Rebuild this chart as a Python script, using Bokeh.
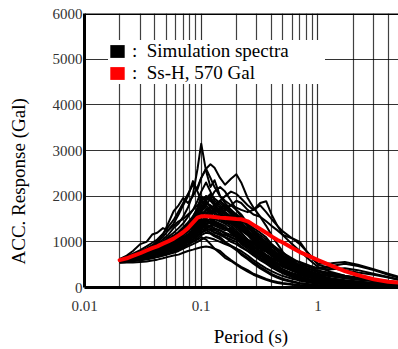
from bokeh.plotting import figure
from bokeh.models import Range1d, FixedTicker, Span, Legend, LegendItem
from bokeh.embed import file_html
from bokeh.resources import INLINE

period = [0.02, 0.023, 0.026, 0.03, 0.034, 0.038, 0.042, 0.047, 0.052, 0.058,
          0.064, 0.07, 0.077, 0.085, 0.093, 0.1, 0.11, 0.12, 0.13, 0.145,
          0.16, 0.18, 0.2, 0.22, 0.25, 0.28, 0.32, 0.36, 0.4, 0.45,
          0.5, 0.6, 0.7, 0.85, 1.0, 1.3, 1.7, 2.2, 3.0, 4.0, 5.0]

ss_h = [600, 640, 690, 750, 810, 860, 900, 960, 1010, 1070,
        1140, 1210, 1300, 1420, 1530, 1560, 1560, 1555, 1545, 1530,
        1520, 1510, 1500, 1495, 1450, 1370, 1280, 1200, 1120, 1040,
        985, 870, 775, 680, 600, 480, 360, 270, 180, 125, 110]

sim_01 = [600, 640, 700, 760, 830, 900, 960, 1050, 1150, 1300, 1400, 1550, 1750, 2050, 2600, 3150, 2550, 2200, 2350, 2000, 1850, 1700, 1600, 1450, 1250, 1050, 850, 700, 560, 450, 370, 280, 210, 150, 110, 80, 60, 45, 35, 25, 20]
sim_02 = [620, 680, 740, 820, 900, 980, 1050, 1180, 1320, 1480, 1670, 1850, 2050, 2250, 2150, 2400, 2600, 2700, 2620, 2400, 2250, 2380, 2480, 2300, 1960, 1750, 1550, 1350, 1150, 950, 780, 560, 420, 300, 220, 160, 110, 80, 60, 40, 30]
sim_03 = [590, 620, 650, 700, 740, 780, 830, 880, 950, 1020, 1100, 1200, 1300, 1400, 1500, 1600, 1700, 1750, 1800, 1900, 2000, 2100, 2050, 1950, 1800, 1700, 1800, 1650, 1500, 1350, 1230, 1080, 950, 720, 520, 530, 560, 500, 400, 300, 230]
sim_04 = [580, 600, 620, 650, 680, 710, 740, 790, 840, 900, 980, 1050, 1150, 1250, 1400, 1700, 1900, 2000, 1800, 1600, 1500, 1400, 1350, 1250, 1150, 1100, 1050, 950, 850, 750, 680, 600, 560, 480, 420, 470, 520, 470, 380, 280, 210]
sim_05 = [560, 570, 590, 610, 630, 650, 670, 700, 730, 760, 800, 850, 900, 950, 1000, 1050, 1100, 1080, 1050, 1000, 950, 900, 850, 800, 700, 600, 500, 420, 360, 300, 250, 190, 150, 110, 80, 60, 50, 40, 30, 22, 15]
sim_06 = [540, 545, 550, 560, 570, 590, 610, 640, 670, 700, 720, 760, 800, 830, 860, 880, 900, 880, 850, 800, 700, 600, 520, 450, 380, 300, 240, 190, 150, 120, 100, 70, 55, 45, 35, 25, 20, 15, 12, 10, 8]
sim_07 = [600, 640, 690, 740, 800, 850, 900, 1000, 1100, 1200, 1300, 1400, 1550, 1700, 1900, 2100, 2300, 2100, 1900, 1800, 1700, 1650, 1600, 1500, 1350, 1200, 1050, 900, 800, 700, 600, 480, 380, 280, 220, 180, 150, 120, 90, 70, 50]
sim_08 = [610, 660, 720, 780, 850, 930, 1000, 1100, 1250, 1400, 1600, 1800, 2000, 2330, 2100, 1900, 1800, 1700, 1600, 1500, 1400, 1300, 1200, 1100, 1000, 900, 800, 700, 620, 540, 470, 370, 300, 230, 180, 140, 110, 90, 70, 50, 40]
sim_09 = [620, 700, 800, 950, 1000, 1160, 1200, 1300, 1250, 1350, 1450, 1500, 1600, 1700, 1800, 1900, 2000, 1900, 1800, 1700, 1600, 1550, 1500, 1400, 1250, 1100, 950, 850, 760, 650, 560, 430, 330, 240, 180, 130, 100, 80, 60, 45, 35]
sim_10 = [600, 650, 700, 750, 820, 900, 1000, 1150, 1400, 1670, 1800, 1960, 1850, 2000, 2200, 2400, 2600, 2400, 2200, 2000, 1900, 1800, 1700, 1600, 1400, 1250, 1100, 950, 820, 700, 600, 450, 340, 250, 190, 140, 110, 85, 65, 50, 40]
sim_11 = [580, 600, 620, 650, 690, 720, 760, 800, 850, 900, 960, 1020, 1100, 1200, 1300, 1400, 1500, 1600, 1700, 1650, 1700, 1800, 1900, 1850, 1700, 1600, 1550, 1450, 1350, 1250, 1150, 1080, 1000, 700, 500, 420, 380, 330, 280, 220, 160]
sim_12 = [580, 590, 610, 630, 660, 690, 720, 760, 800, 850, 900, 960, 1020, 1100, 1180, 1250, 1300, 1350, 1300, 1250, 1200, 1150, 1100, 1000, 900, 800, 700, 600, 500, 420, 360, 280, 220, 170, 130, 100, 80, 60, 45, 35, 25]
sim_13 = [600, 620, 650, 690, 730, 770, 820, 870, 930, 1000, 1080, 1170, 1270, 1380, 1500, 1650, 1800, 1950, 2100, 2200, 2100, 1900, 1700, 1550, 1400, 1300, 1200, 1100, 950, 800, 700, 520, 400, 290, 220, 170, 130, 100, 80, 60, 45]
sim_14 = [590, 610, 640, 680, 720, 760, 810, 860, 900, 960, 1020, 1090, 1170, 1260, 1360, 1450, 1550, 1600, 1550, 1500, 1450, 1400, 1300, 1200, 1050, 950, 850, 780, 700, 620, 540, 420, 330, 250, 190, 150, 120, 95, 75, 55, 40]
sim_15 = [570, 580, 600, 620, 650, 680, 710, 750, 790, 830, 880, 930, 990, 1050, 1120, 1200, 1250, 1200, 1150, 1100, 1000, 920, 850, 750, 650, 550, 450, 370, 300, 240, 190, 140, 100, 70, 50, 40, 30, 25, 20, 15, 10]
sim_16 = [600, 630, 670, 710, 760, 820, 880, 950, 1030, 1100, 1200, 1300, 1400, 1500, 1650, 1800, 1700, 1600, 1650, 1750, 1800, 1700, 1550, 1400, 1250, 1150, 1050, 980, 900, 800, 700, 560, 450, 330, 250, 190, 150, 120, 90, 65, 50]
sim_17 = [580, 610, 630, 680, 700, 750, 780, 850, 880, 950, 1000, 1100, 1150, 1250, 1300, 1450, 1500, 1400, 1450, 1350, 1300, 1250, 1150, 1100, 950, 850, 700, 620, 520, 450, 380, 300, 230, 170, 130, 100, 80, 60, 45, 35, 28]
sim_18 = [600, 630, 680, 720, 780, 820, 880, 920, 980, 1050, 1150, 1250, 1350, 1500, 1700, 1900, 1750, 1650, 1500, 1550, 1450, 1350, 1250, 1150, 1000, 900, 750, 650, 550, 480, 400, 300, 240, 180, 140, 110, 85, 65, 50, 38, 30]
sim_19 = [570, 600, 620, 660, 690, 730, 770, 820, 870, 930, 990, 1060, 1130, 1200, 1280, 1350, 1450, 1500, 1400, 1300, 1250, 1300, 1200, 1050, 900, 780, 650, 560, 480, 400, 330, 250, 190, 140, 100, 75, 60, 45, 35, 25, 20]
sim_20 = [590, 620, 660, 700, 740, 800, 850, 900, 960, 1030, 1100, 1180, 1280, 1400, 1550, 1700, 1850, 1800, 1700, 1900, 1800, 1650, 1500, 1350, 1200, 1050, 920, 800, 700, 600, 520, 400, 310, 230, 170, 130, 100, 75, 55, 40, 30]
sim_21 = [560, 580, 610, 640, 680, 720, 760, 800, 850, 900, 950, 1000, 1050, 1150, 1250, 1350, 1400, 1450, 1500, 1450, 1400, 1450, 1350, 1300, 1200, 1100, 1000, 900, 800, 700, 620, 500, 400, 300, 230, 170, 130, 100, 75, 55, 40]
sim_22 = [610, 650, 690, 730, 780, 830, 880, 940, 1000, 1070, 1150, 1250, 1380, 1550, 1750, 2000, 1900, 1750, 1700, 1600, 1550, 1500, 1400, 1300, 1150, 1000, 900, 800, 700, 600, 500, 380, 300, 220, 170, 130, 100, 80, 60, 45, 35]
sim_23 = [580, 600, 640, 670, 710, 750, 790, 840, 880, 920, 970, 1020, 1080, 1150, 1220, 1300, 1380, 1450, 1550, 1600, 1650, 1550, 1450, 1350, 1200, 1100, 950, 850, 750, 650, 560, 450, 360, 280, 210, 160, 120, 95, 70, 50, 38]
sim_24 = [590, 615, 650, 690, 730, 770, 820, 880, 940, 1000, 1060, 1140, 1220, 1320, 1450, 1600, 1650, 1550, 1450, 1400, 1350, 1200, 1100, 950, 850, 750, 650, 560, 470, 390, 320, 240, 180, 130, 95, 70, 55, 42, 32, 24, 18]
sim_25 = [600, 620, 660, 700, 750, 800, 840, 890, 950, 1010, 1090, 1180, 1290, 1420, 1600, 1800, 1950, 2050, 1950, 1850, 1750, 1600, 1500, 1400, 1300, 1200, 1100, 1000, 900, 800, 700, 560, 440, 320, 240, 180, 140, 110, 80, 60, 45]
sim_26 = [570, 590, 620, 650, 690, 720, 760, 800, 840, 890, 940, 1000, 1060, 1130, 1200, 1280, 1350, 1300, 1250, 1200, 1100, 1050, 1000, 900, 800, 700, 600, 520, 440, 370, 310, 230, 170, 120, 90, 65, 50, 40, 30, 22, 16]
sim_27 = [600, 640, 680, 730, 790, 840, 900, 960, 1030, 1110, 1200, 1300, 1420, 1560, 1720, 1880, 2000, 1950, 1850, 1750, 1650, 1550, 1600, 1500, 1350, 1250, 1150, 1050, 950, 850, 750, 600, 480, 360, 270, 200, 150, 115, 85, 60, 45]
sim_28 = [580, 600, 630, 670, 710, 740, 780, 830, 880, 930, 990, 1050, 1110, 1180, 1260, 1350, 1450, 1400, 1350, 1300, 1300, 1250, 1200, 1100, 1000, 950, 900, 820, 740, 650, 570, 450, 350, 260, 200, 150, 115, 90, 65, 50, 35]
sim_29 = [590, 610, 640, 680, 720, 760, 800, 850, 900, 960, 1020, 1090, 1160, 1250, 1350, 1450, 1550, 1600, 1650, 1700, 1750, 1800, 1750, 1700, 1650, 1700, 1850, 1890, 1600, 1350, 1150, 950, 800, 600, 450, 340, 260, 200, 150, 110, 80]
sim_30 = [560, 575, 595, 620, 645, 670, 700, 735, 770, 810, 850, 900, 950, 1010, 1080, 1150, 1200, 1180, 1120, 1060, 980, 900, 820, 720, 620, 520, 420, 340, 270, 210, 170, 120, 90, 65, 48, 36, 28, 22, 17, 13, 10]
sim_31 = [550, 560, 575, 595, 615, 640, 665, 700, 740, 780, 830, 880, 940, 1000, 1050, 1100, 1050, 950, 850, 750, 650, 580, 500, 430, 350, 280, 220, 170, 130, 100, 80, 60, 45, 35, 28, 20, 16, 13, 10, 8, 6]
sim_32 = [600, 620, 660, 690, 740, 780, 830, 900, 950, 1000, 1080, 1150, 1250, 1300, 1400, 1500, 1450, 1500, 1400, 1350, 1300, 1200, 1150, 1050, 950, 880, 800, 720, 650, 580, 520, 440, 380, 330, 290, 240, 200, 170, 140, 110, 90]
sim_33 = [610, 640, 700, 730, 790, 830, 900, 940, 1020, 1080, 1180, 1230, 1350, 1420, 1550, 1650, 1600, 1700, 1650, 1550, 1500, 1450, 1400, 1300, 1200, 1100, 1000, 900, 820, 730, 660, 560, 480, 400, 340, 280, 230, 190, 150, 120, 95]
sim_34 = [580, 610, 640, 700, 720, 770, 800, 860, 900, 970, 1020, 1080, 1120, 1200, 1260, 1300, 1380, 1350, 1280, 1250, 1180, 1100, 1050, 980, 900, 820, 760, 680, 600, 520, 460, 380, 320, 260, 220, 190, 160, 130, 100, 80, 60]
sim_35 = [590, 630, 660, 720, 760, 830, 860, 930, 980, 1060, 1110, 1200, 1260, 1350, 1450, 1550, 1700, 1650, 1750, 1700, 1600, 1500, 1450, 1350, 1250, 1150, 1080, 1000, 920, 840, 760, 640, 540, 440, 370, 310, 260, 220, 180, 140, 110]
sim_36 = [570, 590, 630, 650, 700, 720, 770, 800, 850, 880, 940, 980, 1040, 1100, 1150, 1200, 1250, 1280, 1200, 1150, 1100, 1000, 950, 880, 800, 720, 640, 560, 500, 440, 390, 320, 270, 220, 180, 150, 130, 110, 90, 70, 55]
sim_37 = [600, 650, 690, 760, 800, 880, 930, 1000, 1060, 1140, 1220, 1320, 1420, 1520, 1650, 1750, 1850, 1800, 1700, 1650, 1550, 1450, 1350, 1250, 1150, 1050, 950, 860, 780, 700, 630, 520, 440, 360, 300, 250, 210, 180, 150, 120, 100]
sim_38 = [590, 610, 650, 680, 720, 760, 810, 850, 900, 950, 1010, 1070, 1140, 1220, 1300, 1380, 1450, 1420, 1380, 1350, 1300, 1250, 1200, 1120, 1050, 980, 920, 850, 780, 710, 650, 560, 500, 450, 410, 400, 420, 380, 300, 230, 170]
sim_39 = [580, 600, 620, 660, 700, 740, 790, 830, 870, 920, 980, 1040, 1100, 1180, 1260, 1350, 1300, 1250, 1200, 1180, 1150, 1100, 1050, 1000, 950, 900, 850, 800, 740, 680, 620, 540, 470, 400, 340, 290, 240, 200, 160, 120, 90]
sim_40 = [560, 580, 600, 630, 660, 690, 720, 760, 800, 840, 890, 940, 1000, 1060, 1130, 1200, 1280, 1350, 1400, 1380, 1300, 1200, 1100, 1000, 900, 800, 720, 650, 580, 510, 450, 370, 310, 250, 210, 170, 140, 115, 95, 75, 60]

simulations = [sim_01, sim_02, sim_03, sim_04, sim_05, sim_06, sim_07, sim_08,
               sim_09, sim_10, sim_11, sim_12, sim_13, sim_14, sim_15, sim_16,
               sim_17, sim_18, sim_19, sim_20, sim_21, sim_22, sim_23, sim_24,
               sim_25, sim_26, sim_27, sim_28, sim_29, sim_30, sim_31, sim_32,
               sim_33, sim_34, sim_35, sim_36, sim_37, sim_38, sim_39, sim_40]
for s in simulations:
    assert len(s) == len(period)

x_major_ticks = [0.01, 0.1, 1]
x_tick_labels = ["0.01", "0.1", "1"]
x_minor_ticks = [0.02, 0.03, 0.04, 0.05, 0.06, 0.07, 0.08, 0.09,
                 0.2, 0.3, 0.4, 0.5, 0.6, 0.7, 0.8, 0.9,
                 2, 3, 4, 5]
y_ticks = [0, 1000, 2000, 3000, 4000, 5000, 6000]

SERIF = "Liberation Serif"
NAN = float("nan")
NBSP = "\u00a0"

p = figure(width=398, height=349, x_axis_type="log",
           x_range=Range1d(0.01, 4.9), y_range=Range1d(0, 6000),
           output_backend="svg", toolbar_location=None,
           min_border_left=84, min_border_right=0,
           min_border_top=13, min_border_bottom=62)
p.outline_line_color = None
p.background_fill_color = "white"
p.border_fill_color = "white"

# grid
p.xaxis.ticker = FixedTicker(ticks=x_major_ticks, minor_ticks=x_minor_ticks)
p.yaxis.ticker = FixedTicker(ticks=y_ticks)
p.xgrid.grid_line_color = "black"
p.xgrid.grid_line_alpha = 0.8
p.xgrid.grid_line_width = 1.2
p.xgrid.minor_grid_line_color = "black"
p.xgrid.minor_grid_line_alpha = 0.75
p.xgrid.minor_grid_line_width = 1.2
p.ygrid.grid_line_color = "black"
p.ygrid.grid_line_alpha = 0.8
p.ygrid.grid_line_width = 1.2

# axes
for ax in (p.xaxis, p.yaxis):
    ax.axis_line_color = "black"
    ax.axis_line_width = 3
    ax.major_tick_in = 0
    ax.major_tick_out = 0
    ax.minor_tick_in = 0
    ax.minor_tick_out = 0
    ax.major_label_text_font = SERIF
    ax.major_label_text_font_size = "15px"
    ax.major_label_text_color = "#333333"
    ax.axis_label_text_font = SERIF
    ax.axis_label_text_font_style = "normal"
    ax.axis_label_text_color = "black"

p.xaxis.major_label_overrides = {t: s for t, s in zip(x_major_ticks, x_tick_labels)}
p.xaxis.major_label_standoff = 13
p.xaxis.axis_label = NBSP * 4 + "Period (s)"
p.xaxis.axis_label_text_font_size = "19px"
p.xaxis.axis_label_standoff = 12
p.yaxis.major_label_standoff = 2
p.yaxis.axis_label = "ACC. Response (Gal)" + NBSP * 13
p.yaxis.axis_label_text_font_size = "19px"
p.yaxis.axis_label_standoff = 21

p.add_layout(Span(location=6000, dimension="width", line_color="black", line_width=3))

for sim in simulations:
    p.line(period, sim, line_color="black", line_width=2.0, line_join="round")

p.line(period, ss_h, line_color="#ff0000", line_width=4, line_join="round", line_cap="round")

sim_key = p.quad(left=[NAN], right=[NAN], top=[NAN], bottom=[NAN], fill_color="black", line_color=None)
ssh_key = p.quad(left=[NAN], right=[NAN], top=[NAN], bottom=[NAN], fill_color="#ff0000", line_color=None)

legend = Legend(items=[
    LegendItem(label=":" + NBSP * 2 + "Simulation spectra", renderers=[sim_key]),
    LegendItem(label=":" + NBSP * 2 + "Ss-H, 570 Gal", renderers=[ssh_key]),
], location=(24, 203), padding=5, spacing=0, glyph_width=18, glyph_height=16,
    label_standoff=6, label_width=193, label_height=22,
    border_line_color=None, background_fill_color="white", background_fill_alpha=1.0)
legend.label_text_font = SERIF
legend.label_text_font_size = "19px"
legend.label_text_color = "black"
p.add_layout(legend)

open("out.html", "w").write(file_html(p, INLINE))
